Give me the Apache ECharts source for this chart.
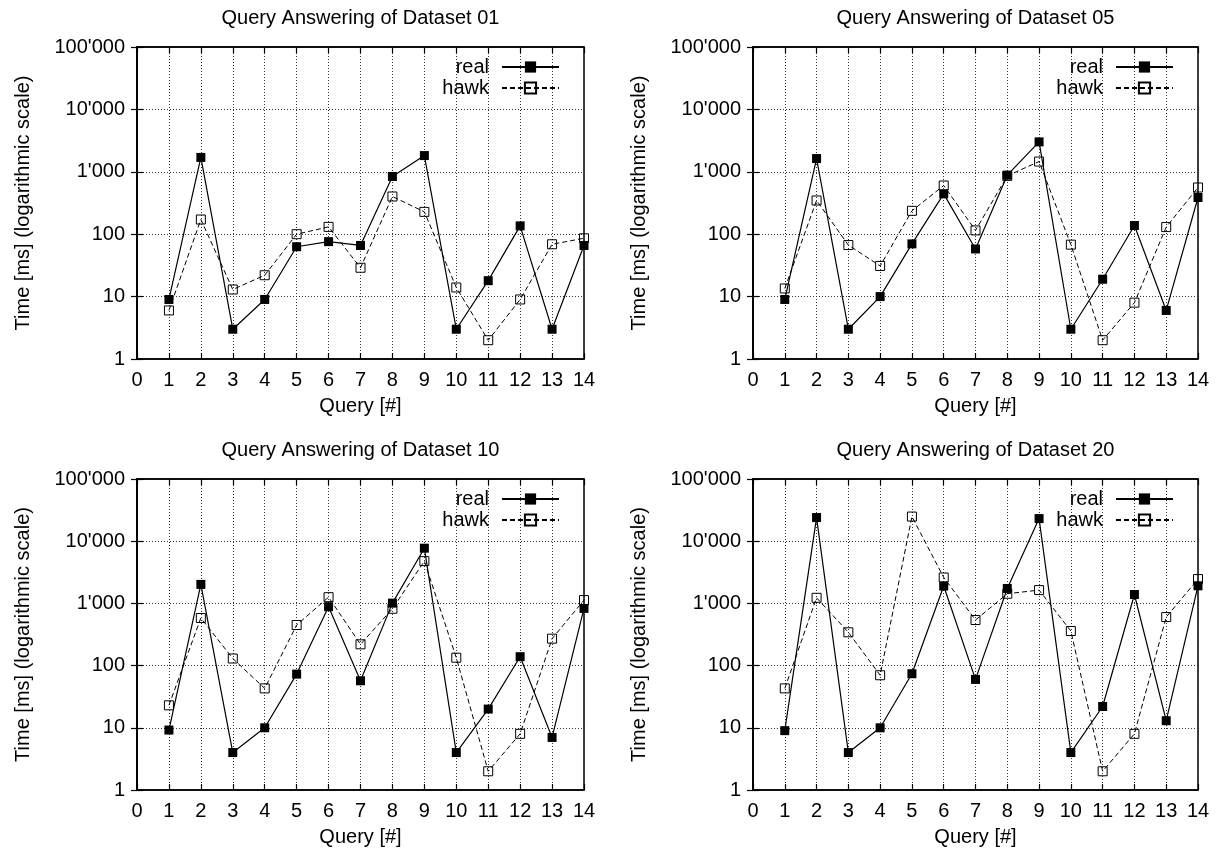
<!DOCTYPE html>
<html>
<head>
<meta charset="utf-8">
<script src="https://cdn.jsdelivr.net/npm/echarts@6/dist/echarts.min.js"></script>
<style>
html,body{margin:0;padding:0;background:#fff;}
#c{width:1222px;height:853px;}
</style>
</head>
<body>
<div id="c"></div>
<script>
const queries = [1,2,3,4,5,6,7,8,9,10,11,12,13,14];
const xTickLabels = ['0','1','2','3','4','5','6','7','8','9','10','11','12','13','14'];
const yTickLabels = ['1','10','100',"1'000","10'000","100'000"];
const panelTitles = ['Query Answering of Dataset 01','Query Answering of Dataset 05','Query Answering of Dataset 10','Query Answering of Dataset 20'];
const seriesNames = ['real','hawk'];

const real01 = [9,1700,3,9,63,76,66,840,1820,3,18,136,3,66];
const hawk01 = [6,172,13,22,100,131,29,402,228,14,2,9,69,86];
const real05 = [9,1630,3,10,70,443,58,883,3015,3,19,138,6,387];
const hawk05 = [13.5,347,67,31,237,603,115,860,1460,68,2,8,130,560];
const real10 = [9.2,2020,4,10,73,885,57,1010,7720,4,20,139,7,830];
const hawk10 = [23,582,130,43,449,1260,220,820,4780,134,2,8,271,1130];
const real20 = [9,24000,4,10,74,1900,60,1740,23100,4,22,1390,13,1920];
const hawk20 = [43,1230,343,70,24900,2610,541,1430,1636,360,2,8,603,2460];

const FONT = '"Liberation Sans", Arial, Helvetica, sans-serif';
const FS = 20;
const panels = [
  {left:137, top:47, width:447, height:312, real:real01, hawk:hawk01},
  {left:753, top:47, width:445, height:312, real:real05, hawk:hawk05},
  {left:137, top:479, width:447, height:311, real:real10, hawk:hawk10},
  {left:753, top:479, width:445, height:311, real:real20, hawk:hawk20}
];

const option = {
  animation:false,
  backgroundColor:'#fff',
  textStyle:{fontFamily:FONT},
  title:[], legend:[], grid:[], xAxis:[], yAxis:[], series:[]
};

const tickStyle = {show:true, inside:true, length:6, lineStyle:{color:'#000', width:1.2}};

panels.forEach((p, k) => {
  option.grid.push({left:p.left, top:p.top, width:p.width, height:p.height,
    show:true, borderColor:'#000', borderWidth:1.5, backgroundColor:'transparent'});
  option.title.push({
    text:panelTitles[k], left:p.left + p.width/2 - 5, top:p.top - 44, textAlign:'center',
    textStyle:{fontFamily:FONT, fontSize:FS, fontWeight:'normal', color:'#000'}
  });
  option.xAxis.push({
    type:'value', gridIndex:k, min:0, max:14, interval:1, position:'bottom',
    name:'Query [#]', nameLocation:'middle', nameGap:37,
    nameTextStyle:{fontFamily:FONT, fontSize:FS, color:'#000'},
    axisLine:{show:true, lineStyle:{color:'#000', width:1.5}},
    axisTick:tickStyle,
    axisLabel:{color:'#000', fontSize:FS, fontFamily:FONT, margin:11,
      formatter:v => xTickLabels[Math.round(v)]},
    splitLine:{show:true, lineStyle:{color:'#333', width:1, type:[1,2]}}
  });
  option.xAxis.push({
    type:'value', gridIndex:k, min:0, max:14, interval:1, position:'top',
    axisLine:{show:true, lineStyle:{color:'#000', width:1.5}},
    axisTick:tickStyle, axisLabel:{show:false}, splitLine:{show:false}
  });
  option.yAxis.push({
    type:'log', logBase:10, gridIndex:k, min:1, max:100000, position:'left',
    name:'Time [ms] (logarithmic scale)', nameLocation:'middle', nameGap:104,
    nameTextStyle:{fontFamily:FONT, fontSize:FS, color:'#000'},
    axisLine:{show:true, lineStyle:{color:'#000', width:1.5}},
    axisTick:tickStyle, minorTick:{show:false},
    axisLabel:{color:'#000', fontSize:FS, fontFamily:FONT, margin:12,
      formatter:v => yTickLabels[Math.round(Math.log10(v))]},
    splitLine:{show:true, lineStyle:{color:'#333', width:1, type:[1,2]}}
  });
  option.yAxis.push({
    type:'log', logBase:10, gridIndex:k, min:1, max:100000, position:'right',
    axisLine:{show:true, lineStyle:{color:'#000', width:1.5}},
    axisTick:tickStyle, axisLabel:{show:false}, splitLine:{show:false}
  });
  const xi = 2*k, yi = 2*k;
  option.series.push({
    name:seriesNames[0], type:'line', xAxisIndex:xi, yAxisIndex:yi,
    data:queries.map((q,i)=>[q, p.real[i]]),
    symbol:'rect', symbolSize:9,
    lineStyle:{color:'#000', width:1.2, type:'solid'},
    itemStyle:{color:'#000', borderColor:'#000', borderWidth:0},
    z:2
  });
  option.series.push({
    name:seriesNames[1], type:'line', xAxisIndex:xi, yAxisIndex:yi,
    data:queries.map((q,i)=>[q, p.hawk[i]]),
    symbol:'rect', symbolSize:9,
    lineStyle:{color:'#000', width:1, type:[5,3]},
    itemStyle:{color:'rgba(255,255,255,0)', borderColor:'#000', borderWidth:1},
    z:3
  });
  option.legend.push({
    orient:'vertical', align:'right',
    right:1222 - (p.left + p.width - 24) - 5, top:p.top + 5,
    itemWidth:57, itemHeight:14, itemGap:1,
    data:seriesNames.map(n => ({name:n})),
    textStyle:{fontFamily:FONT, fontSize:FS, color:'#000', width:47, align:'right', padding:[0,8,0,0]},
    selectedMode:false
  });
});

const chart = echarts.init(document.getElementById('c'), null, {renderer:'canvas'});
chart.setOption(option);
</script>
</body>
</html>
